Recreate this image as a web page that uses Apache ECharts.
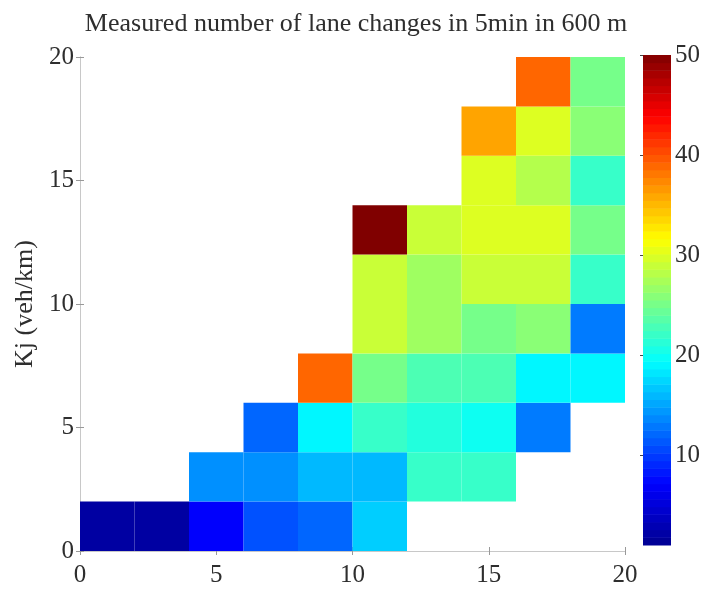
<!DOCTYPE html>
<html>
<head>
<meta charset="utf-8">
<title>Lane changes heatmap</title>
<script src="https://cdn.jsdelivr.net/npm/echarts@6/dist/echarts.min.js"></script>
<style>
  html, body { margin: 0; padding: 0; background: #fff; }
  #chart { width: 705px; height: 589px; }
</style>
</head>
<body>
<div id="chart"></div>
<script>
// Bin layout: both axes are split into bins 2 units wide
const binSize = 2;
const xBinStarts = [0, 2, 4, 6, 8, 10, 12, 14, 16, 18];
const yBinStarts = [0, 2, 4, 6, 8, 10, 12, 14, 16, 18];

// Measured lane changes per 5 min in 600 m, one array per Kj bin (bottom to top); null = no data
const kjBin0  = [2, 2, 7, 11, 12, 17, null, null, null, null];
const kjBin2  = [null, null, 14, 14, 16, 16, 22, 22, null, null];
const kjBin4  = [null, null, null, 12, 19, 22, 21, 20, 13, null];
const kjBin6  = [null, null, null, null, 39, 25, 23, 23, 19, 19];
const kjBin8  = [null, null, null, null, null, 29, 27, 25, 26, 13];
const kjBin10 = [null, null, null, null, null, 29, 27, 29, 29, 22];
const kjBin12 = [null, null, null, null, null, 50, 29, 30, 30, 25];
const kjBin14 = [null, null, null, null, null, null, null, 30, 28, 22];
const kjBin16 = [null, null, null, null, null, null, null, 36, 30, 26];
const kjBin18 = [null, null, null, null, null, null, null, null, 39, 25];

const colorbarTicks = [10, 20, 30, 40, 50];
const colorMin = 1;
const colorMax = 50;

const rows = [kjBin0, kjBin2, kjBin4, kjBin6, kjBin8, kjBin10, kjBin12, kjBin14, kjBin16, kjBin18];
const cells = [];
rows.forEach((row, r) => {
  row.forEach((v, c) => {
    if (v !== null) cells.push([xBinStarts[c], yBinStarts[r], v]);
  });
});

// Colour bar drawn as 64 discrete levels
const levels = 64;
const bands = [];
for (let i = 0; i < levels; i++) {
  const lo = colorMin + (colorMax - colorMin) * i / levels;
  const hi = colorMin + (colorMax - colorMin) * (i + 1) / levels;
  bands.push([lo, hi, (lo + hi) / 2]);
}

const jet = ['#000090', '#0000ff', '#0080ff', '#00ffff', '#80ff80',
             '#ffff00', '#ff8000', '#ff0000', '#800000'];

const serif = 'Liberation Serif';
const textColor = '#2e2e2e';
const frameColor = '#c8c8c8';
const tickFont = 25;

const chart = echarts.init(document.getElementById('chart'), null, { renderer: 'canvas' });

const mainAxisX = (pos, showLabel) => ({
  type: 'value', gridIndex: 0, position: pos, min: 0, max: 20, interval: 5,
  axisLine: { show: true, lineStyle: { color: frameColor, width: 1 } },
  axisTick: { show: true, inside: true, length: 4, lineStyle: { color: '#999' } },
  axisLabel: { show: showLabel, fontFamily: serif, fontSize: tickFont, color: textColor, margin: 12 },
  splitLine: { show: false }
});
const mainAxisY = (pos, showLabel) => ({
  type: 'value', gridIndex: 0, position: pos, min: 0, max: 20, interval: 5,
  axisLine: { show: true, lineStyle: { color: frameColor, width: 1 } },
  axisTick: { show: true, inside: true, length: 4, lineStyle: { color: '#999' } },
  axisLabel: { show: showLabel, fontFamily: serif, fontSize: tickFont, color: textColor, margin: 6 },
  splitLine: { show: false }
});

const yLeft = mainAxisY('left', true);
yLeft.name = 'Kj (veh/km)';
yLeft.nameLocation = 'middle';
yLeft.nameGap = 37;
yLeft.nameTextStyle = { fontFamily: serif, fontSize: 26, color: textColor };

chart.setOption({
  backgroundColor: '#fff',
  animation: false,
  title: {
    text: 'Measured number of lane changes in 5min in 600 m',
    left: 351, top: 6, textAlign: 'center',
    textStyle: { fontFamily: serif, fontSize: 26, fontWeight: 'normal', color: textColor }
  },
  grid: [
    { left: 80, right: 80, top: 57, bottom: 38 },
    { left: 643, width: 28, top: 55, bottom: 44 }
  ],
  xAxis: [
    mainAxisX('bottom', true),
    mainAxisX('top', false),
    { type: 'value', gridIndex: 1, min: 0, max: 1, show: false }
  ],
  yAxis: [
    yLeft,
    mainAxisY('right', false),
    {
      type: 'value', gridIndex: 1, position: 'right', min: colorMin, max: colorMax,
      axisLine: { show: false },
      axisTick: { show: true, inside: true, length: 3, customValues: colorbarTicks,
                  lineStyle: { color: '#444' } },
      axisLabel: { show: true, customValues: colorbarTicks, fontFamily: serif, fontSize: tickFont,
                   color: textColor, margin: 4 },
      splitLine: { show: false }
    }
  ],
  visualMap: {
    type: 'continuous', show: false, min: colorMin, max: colorMax,
    dimension: 2, seriesIndex: [0, 1],
    inRange: { color: jet }
  },
  series: [
    {
      type: 'custom', name: 'lane changes', xAxisIndex: 0, yAxisIndex: 0,
      data: cells, encode: { x: 0, y: 1 }, clip: true,
      renderItem: function (params, api) {
        const x = api.value(0), y = api.value(1);
        const p0 = api.coord([x, y + binSize]);
        const p1 = api.coord([x + binSize, y]);
        return {
          type: 'rect',
          shape: { x: p0[0], y: p0[1], width: p1[0] - p0[0], height: p1[1] - p0[1] },
          style: { fill: api.visual('color'), stroke: null }
        };
      }
    },
    {
      type: 'custom', name: 'colour bar', xAxisIndex: 2, yAxisIndex: 2,
      data: bands, encode: { y: [0, 1] }, silent: true,
      renderItem: function (params, api) {
        const p0 = api.coord([0, api.value(1)]);
        const p1 = api.coord([1, api.value(0)]);
        return {
          type: 'rect',
          shape: { x: p0[0], y: p0[1], width: p1[0] - p0[0], height: p1[1] - p0[1] + 0.5 },
          style: { fill: api.visual('color'), stroke: null }
        };
      }
    }
  ]
});
</script>
</body>
</html>
